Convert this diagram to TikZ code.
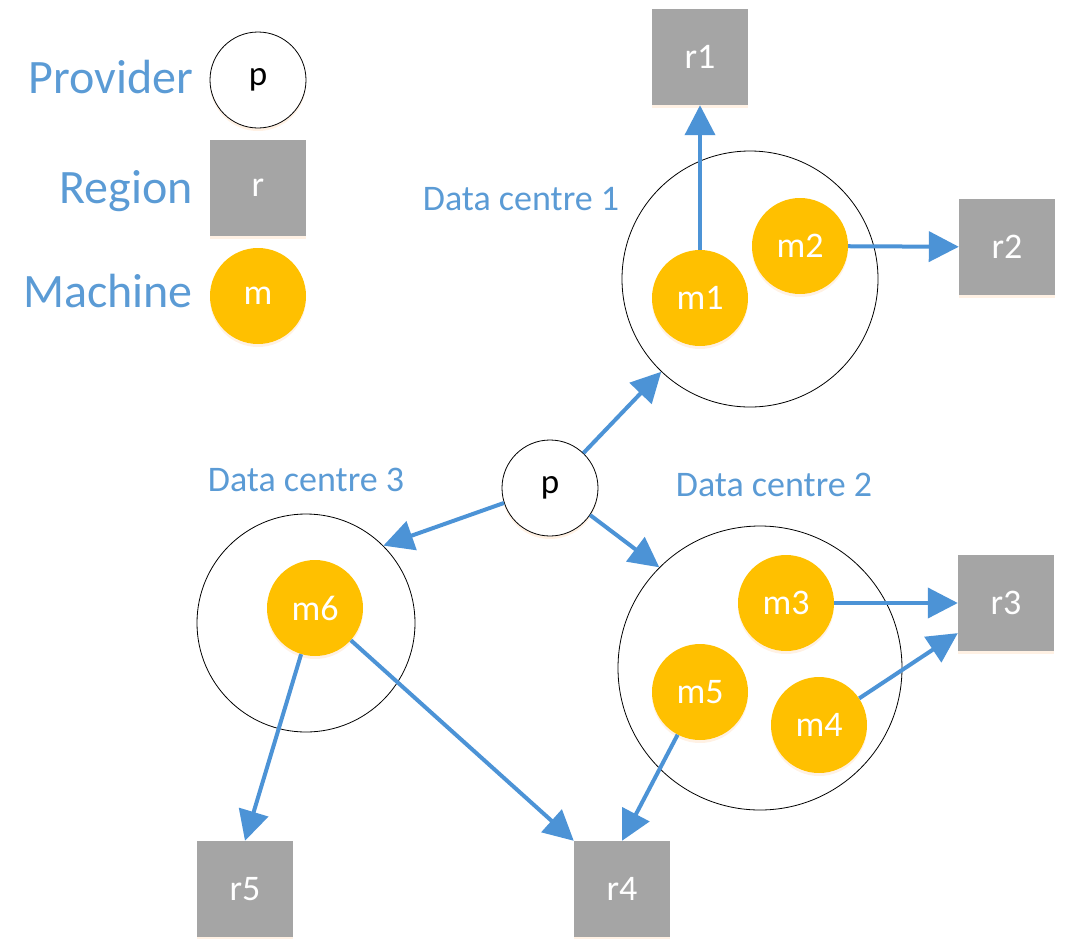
\documentclass[tikz,border=0pt]{standalone}
\usepackage{fontspec}
\setmainfont{Carlito}
\usetikzlibrary{arrows.meta,shadows}
\definecolor{dcblue}{HTML}{5B9BD5}
\definecolor{arrblue}{HTML}{4C93D6}
\definecolor{mgold}{HTML}{FFC000}
\definecolor{rgray}{HTML}{A5A5A5}

\begin{document}
\begin{tikzpicture}[x=1pt,y=-1pt,
    glow/.style={drop shadow={shadow xshift=0pt,shadow yshift=-3pt,fill=orange!35,opacity=0.3}},
    prov/.style={circle,draw=black,line width=0.8pt,fill=white,minimum size=96pt,inner sep=0pt,
        font=\fontsize{35}{40}\selectfont,glow},
    region/.style={rectangle,fill=rgray,minimum size=96pt,inner sep=0pt,text=white,
        font=\fontsize{36}{40}\selectfont,glow},
    machine/.style={circle,fill=mgold,minimum size=96pt,inner sep=0pt,text=white,
        font=\fontsize{36}{40}\selectfont,glow},
    dc/.style={circle,draw=black,line width=0.8pt,inner sep=0pt},
    legtext/.style={text=dcblue,font=\fontsize{48}{56}\selectfont,anchor=base east,inner sep=0pt},
    dclabel/.style={text=dcblue,font=\fontsize{36}{42}\selectfont,anchor=base,inner sep=0pt},
    link/.style={draw=arrblue,line width=4pt,-{Triangle[length=30pt,width=30pt]}}]
    \useasboundingbox (0,0) rectangle (1066,938);

    % legend
    \node[legtext] (lprov) at (193,93) {Provider};
    \node[legtext] (lreg) at (193,203) {Region};
    \node[legtext] (lmach) at (193,307) {Machine};
    \node[prov] (legp) at (258,80) {p};
    \node[region] (legr) at (258,188) {r};
    \node[machine] (legm) at (258,296) {m};

    % data centres
    \node[dc,minimum size=256pt] (dc1) at (750,279) {};
    \node[dc,minimum size=284pt] (dc2) at (760,668) {};
    \node[dc,minimum size=218pt] (dc3) at (306,623) {};
    \node[dclabel] (dc1lab) at (521,210) {Data centre 1};
    \node[dclabel] (dc2lab) at (774,496) {Data centre 2};
    \node[dclabel] (dc3lab) at (306,491) {Data centre 3};

    % provider, machines, regions
    \node[prov] (p) at (550,488) {p};
    \node[machine] (m1) at (700,298) {m1};
    \node[machine] (m2) at (800,246) {m2};
    \node[machine] (m3) at (786,603) {m3};
    \node[machine] (m4) at (819,725) {m4};
    \node[machine] (m5) at (700,692) {m5};
    \node[machine] (m6) at (315,608) {m6};
    \node[region] (r1) at (700,57) {r1};
    \node[region] (r2) at (1007,247) {r2};
    \node[region] (r3) at (1006,603) {r3};
    \node[region] (r4) at (622,889) {r4};
    \node[region] (r5) at (245,889) {r5};

    % links
    \draw[link] (p) -- (dc1);
    \draw[link] (p.-34) -- (dc2.135);
    \draw[link] (p.198) -- (dc3.45);
    \draw[link] (m1) -- (r1);
    \draw[link] (m2) -- (r2);
    \draw[link] (m3) -- (r3);
    \draw[link] (m4) -- (r3.212);
    \draw[link] (m5) -- (r4.north);
    \draw[link] (m6) -- (r4.north west);
    \draw[link] (m6) -- (r5.north);
\end{tikzpicture}
\end{document}
